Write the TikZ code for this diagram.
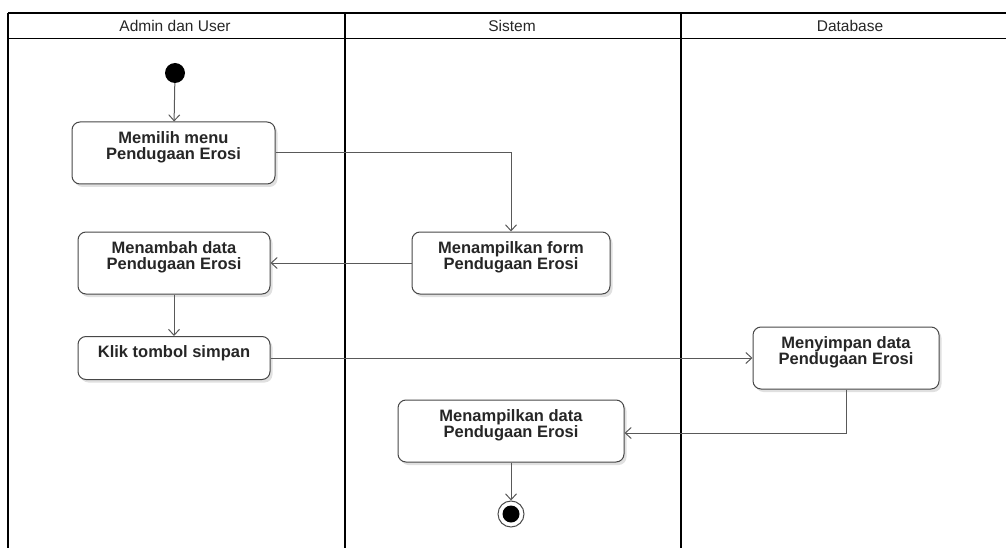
\documentclass[tikz,border=0pt]{standalone}
\usepackage{fontspec}
\setmainfont{Liberation Sans}
\usetikzlibrary{arrows.meta,shadows}

% top-aligned, centred text inside an activity box of given width/height
\newcommand\acttext[3]{\begin{minipage}[t][#2][t]{#1}\centering\vspace{9.5pt}\bfseries #3\end{minipage}}

\begin{document}
\begin{tikzpicture}[x=1pt,y=-1pt,
  act/.style={draw=black!72, line width=1pt, rounded corners=8pt, fill=white,
    inner sep=0pt, font=\fontsize{16.5}{16.5}\selectfont, text=black!85,
    drop shadow={shadow xshift=2.5pt, shadow yshift=-3pt, opacity=0.12, fill=black}},
  flow/.style={draw=black!65, line width=1pt, -{Straight Barb[length=6pt,width=11pt]}},
  lanehead/.style={font=\fontsize{15.5}{16}\selectfont, text=black!85},
  laneline/.style={draw=black, line width=1.5pt}]
\useasboundingbox (0,0) rectangle (1006,548);

% swimlane frame
\draw[laneline, line width=2.5pt] (8,13) -- (1006,13);
\draw[laneline, line width=1.2pt] (8,38.5) -- (1006,38.5);
\draw[laneline, line width=1.2pt] (8,13) -- (8,548);
\draw[laneline] (345,13) -- (345,548);
\draw[laneline] (681,13) -- (681,548);
\node[lanehead] (h1) at (175,26) {Admin dan User};
\node[lanehead] (h2) at (512,26) {Sistem};
\node[lanehead] (h3) at (850,26) {Database};

% start and end
\node[circle, fill=black, minimum size=20pt, inner sep=0pt] (start) at (175,73) {};
\node[circle, draw=black!70, line width=1pt, fill=white, minimum size=26pt, inner sep=0pt] (stop) at (511,514) {};
\node[circle, fill=black, minimum size=17pt, inner sep=0pt] (stopin) at (stop) {};

% activities
\node[act] (m1) at (173.5,153) {\acttext{203pt}{62pt}{Memilih menu\\Pendugaan Erosi}};
\node[act] (m2) at (511,263) {\acttext{198pt}{62pt}{Menampilkan form\\Pendugaan Erosi}};
\node[act] (m3) at (174,263) {\acttext{192pt}{62pt}{Menambah data\\Pendugaan Erosi}};
\node[act] (m4) at (174,358) {\acttext{192pt}{43pt}{Klik tombol simpan}};
\node[act] (m5) at (846,358) {\acttext{186pt}{62pt}{Menyimpan data\\Pendugaan Erosi}};
\node[act] (m6) at (511,431) {\acttext{226pt}{62pt}{Menampilkan data\\Pendugaan Erosi}};

% control flow
\draw[flow] (start) -- (m1);
\draw[flow] (m1.east) -| (m2.north);
\draw[flow] (m2.west) -- (m3.east);
\draw[flow] (m3.south) -- (m4.north);
\draw[flow] (m4.east) -- (m5.west);
\draw[flow] (m5.south) |- ([yshift=-2pt]m6.east);
\draw[flow] (m6.south) -- (stop.north);
\end{tikzpicture}
\end{document}
